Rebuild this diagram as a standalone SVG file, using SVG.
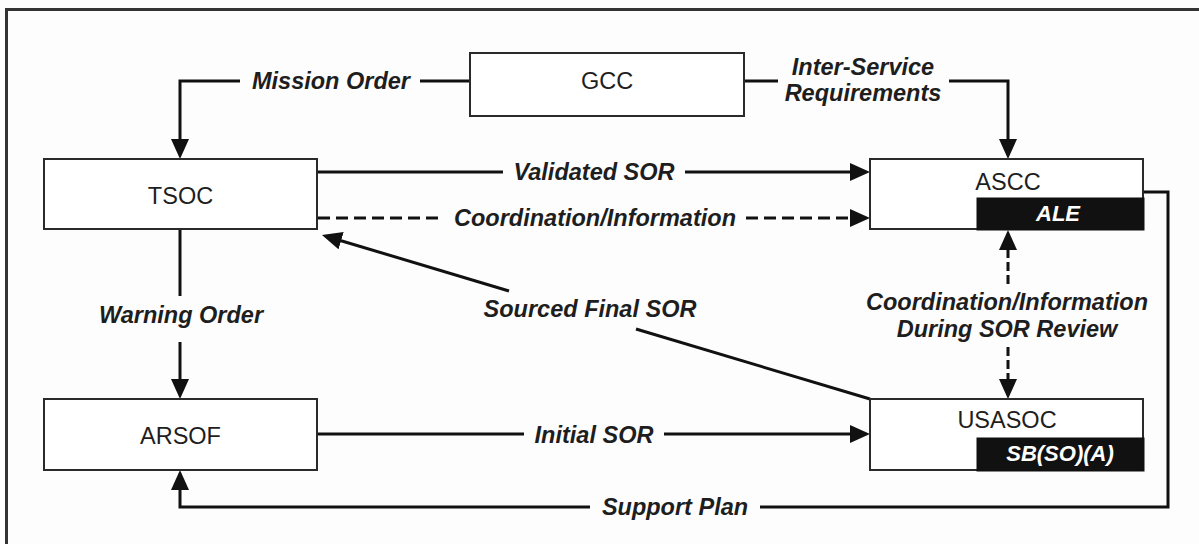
<svg xmlns="http://www.w3.org/2000/svg" width="1199" height="544" viewBox="0 0 1199 544">
<style>
.box{fill:#ffffff;stroke:#2a2a2a;stroke-width:2}
.bar{fill:#111111;stroke:#111111;stroke-width:1}
.node{font-family:"Liberation Sans",Arial,sans-serif;font-size:23.5px;fill:#1e1e1e;text-anchor:middle}
.tag{font-family:"Liberation Sans",Arial,sans-serif;font-size:22px;font-weight:bold;font-style:italic;fill:#ffffff;text-anchor:middle}
.lbl{font-family:"Liberation Sans",Arial,sans-serif;font-size:23.5px;font-weight:bold;font-style:italic;fill:#1e1e1e;text-anchor:middle}
.ln{fill:none;stroke:#111111;stroke-width:3}
.dash{stroke-dasharray:12 6}
.vdash{stroke-dasharray:9 4}
</style>
<defs>
<marker id="ah" viewBox="0 0 20 18" refX="14" refY="9" markerWidth="20" markerHeight="18" markerUnits="userSpaceOnUse" orient="auto">
<path d="M0,0 L20,9 L0,18 z" fill="#111111"/>
</marker>
</defs>
<rect x="0" y="0" width="1199" height="544" fill="#fdfdfd"/>
<rect x="6.5" y="9.5" width="1300" height="600" fill="none" stroke="#333333" stroke-width="3"/>

<g id="connectors">
<!-- Mission Order -->
<path class="ln" d="M470,81 H420"/>
<path class="ln" d="M240,81 H180 V153" marker-end="url(#ah)"/>
<text class="lbl" x="331" y="89">Mission Order</text>
<!-- Inter-Service Requirements -->
<path class="ln" d="M744,81 H778"/>
<path class="ln" d="M949,81 H1008 V153" marker-end="url(#ah)"/>
<text class="lbl" x="863" y="75">Inter-Service</text>
<text class="lbl" x="863" y="101">Requirements</text>
<!-- Validated SOR -->
<path class="ln" d="M317,172 H503"/>
<path class="ln" d="M685,172 H864" marker-end="url(#ah)"/>
<text class="lbl" x="594" y="180">Validated SOR</text>
<!-- Coordination/Information -->
<path class="ln dash" d="M318,218 H444"/>
<path class="ln dash" d="M746,218 H864" marker-end="url(#ah)"/>
<text class="lbl" x="595" y="226">Coordination/Information</text>
<!-- Sourced Final SOR -->
<path class="ln" d="M870,399 L636,329"/>
<path class="ln" d="M509,291 L327.7,236.7" marker-end="url(#ah)"/>
<text class="lbl" x="590" y="317">Sourced Final SOR</text>
<!-- Warning Order -->
<path class="ln" d="M180,229 V296"/>
<path class="ln" d="M180,342 V393" marker-end="url(#ah)"/>
<text class="lbl" x="181" y="323">Warning Order</text>
<!-- Coordination/Information During SOR Review -->
<path class="ln vdash" d="M1008,284 V236" marker-end="url(#ah)"/>
<path class="ln vdash" d="M1008,347 V393" marker-end="url(#ah)"/>
<text class="lbl" x="1007" y="310">Coordination/Information</text>
<text class="lbl" x="1007" y="337">During SOR Review</text>
<!-- Initial SOR -->
<path class="ln" d="M317,434 H524"/>
<path class="ln" d="M664,434 H864" marker-end="url(#ah)"/>
<text class="lbl" x="594" y="443">Initial SOR</text>
<!-- Support Plan -->
<path class="ln" d="M1143,192 H1168 V507 H760"/>
<path class="ln" d="M590,507 H180 V476" marker-end="url(#ah)"/>
<text class="lbl" x="675" y="515">Support Plan</text>
</g>

<g id="node-gcc">
<rect class="box" x="470" y="53" width="274" height="63"/>
<text class="node" x="607" y="89">GCC</text>
</g>
<g id="node-tsoc">
<rect class="box" x="44" y="159" width="273" height="70"/>
<text class="node" x="180.5" y="204">TSOC</text>
</g>
<g id="node-ascc">
<rect class="box" x="870" y="159" width="273" height="70"/>
<rect class="bar" x="977" y="198" width="167" height="32"/>
<text class="node" x="1008" y="190">ASCC</text>
<text class="tag" x="1058" y="221">ALE</text>
</g>
<g id="node-arsof">
<rect class="box" x="44" y="399" width="273" height="71"/>
<text class="node" x="180.5" y="444">ARSOF</text>
</g>
<g id="node-usasoc">
<rect class="box" x="870" y="399" width="273" height="71"/>
<rect class="bar" x="977" y="438" width="167" height="33"/>
<text class="node" x="1007" y="428">USASOC</text>
<text class="tag" x="1060" y="461">SB(SO)(A)</text>
</g>
</svg>
